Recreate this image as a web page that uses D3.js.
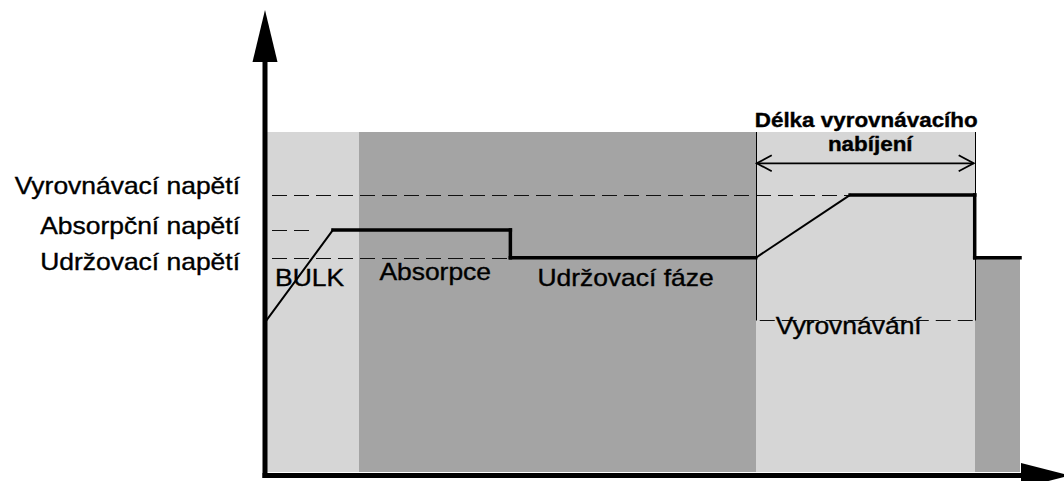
<!DOCTYPE html>
<html>
<head>
<meta charset="utf-8">
<script src="https://cdn.jsdelivr.net/npm/d3@7"></script>
<style>
  html, body { margin: 0; padding: 0; background: #fff; }
  svg { display: block; }
  text { font-family: 'Liberation Sans', Arial, sans-serif; fill: #000; stroke: #000; stroke-width: 0.35; }
</style>
</head>
<body>
<div id="chart"></div>
<script>
// Charging phases (time in arbitrary units 0..100, voltage in arbitrary units 0..100)
var phaseNames = ['BULK', 'Absorpce', 'Udržovací fáze', 'Vyrovnávání'];
var phaseStart = [0, 12.5, 32.5, 65, 94];
var phaseEnd   = [12.5, 32.5, 65, 94, 100];
var phaseTop   = [100, 100, 100, 100, 63];
var phaseShade = ['light', 'dark', 'dark', 'light', 'dark'];

var levelNames  = ['Vyrovnávací napětí', 'Absorpční napětí', 'Udržovací napětí'];
var levelValues = [81.5, 71.2, 63];
var levelEnds   = [94, 6, 32.5];

// Charging voltage curve
var curveTime    = [0, 9, 32.5, 32.5, 65, 77.5, 94, 94, 100];
var curveVoltage = [44, 71.2, 71.2, 63, 63, 81.5, 81.5, 63, 63];

// Equalisation window
var eqStart = 65, eqEnd = 94, eqBottom = 44.7, eqArrowLevel = 90.8;
var eqTitle = ['Délka vyrovnávacího', 'nabíjení'];

(function (d3) {
  'use strict';

  var width = 1064, height = 481,
      stretch = 1.15;

  var x = d3.scaleLinear().domain([0, 100]).range([265, 1020]),
      y = d3.scaleLinear().domain([0, 100]).range([472, 132]);

  // snap thin lines onto the pixel grid
  function px(v) { return Math.round(v) + 0.5; }

  var svg = d3.select('#chart').append('svg')
    .attr('width', width)
    .attr('height', height);

  // Phase backgrounds
  svg.selectAll('rect.phase')
    .data(phaseStart)
    .enter().append('rect')
      .attr('class', 'phase')
      .attr('x', function(d) { return Math.round(x(d)); })
      .attr('y', function(d, i) { return Math.round(y(phaseTop[i])); })
      .attr('width', function(d, i) { return Math.round(x(phaseEnd[i])) - Math.round(x(d)); })
      .attr('height', function(d, i) { return Math.round(y(0)) - Math.round(y(phaseTop[i])); })
      .attr('shape-rendering', 'crispEdges')
      .style('fill', function(d, i) { return phaseShade[i] == 'light' ? '#d6d6d6' : '#a4a4a4'; });

  // Dashed voltage levels
  svg.selectAll('line.level')
    .data(levelValues)
    .enter().append('line')
      .attr('class', 'level')
      .attr('x1', x(0) + 7)
      .attr('x2', function(d, i) { return x(levelEnds[i]); })
      .attr('y1', function(d) { return px(y(d)); })
      .attr('y2', function(d) { return px(y(d)); })
      .style('stroke', '#111')
      .style('stroke-width', 1)
      .style('stroke-dasharray', '15,7');

  // Equalisation window: side lines and dashed bottom
  svg.selectAll('line.eqside')
    .data([eqStart, eqEnd])
    .enter().append('line')
      .attr('class', 'eqside')
      .attr('x1', function(d) { return px(x(d)); })
      .attr('x2', function(d) { return px(x(d)); })
      .attr('y1', y(100))
      .attr('y2', px(y(eqBottom)))
      .style('stroke', '#000')
      .style('stroke-width', 1);

  svg.append('line')
    .attr('x1', x(eqStart) + 4)
    .attr('x2', x(eqEnd))
    .attr('y1', px(y(eqBottom)))
    .attr('y2', px(y(eqBottom)))
    .style('stroke', '#111')
    .style('stroke-width', 1)
    .style('stroke-dasharray', '15,7');

  // Double arrow for equalisation length
  var ay = y(eqArrowLevel);
  svg.append('line')
    .attr('x1', x(eqStart) + 1).attr('x2', x(eqEnd) - 1)
    .attr('y1', ay).attr('y2', ay)
    .style('stroke', '#000').style('stroke-width', 1.8);
  svg.append('path')
    .attr('d', 'M' + (x(eqStart) + 16) + ',' + (ay - 8) + 'L' + (x(eqStart) + 1) + ',' + ay + 'L' + (x(eqStart) + 16) + ',' + (ay + 8) +
               'M' + (x(eqEnd) - 16) + ',' + (ay - 8) + 'L' + (x(eqEnd) - 1) + ',' + ay + 'L' + (x(eqEnd) - 16) + ',' + (ay + 8))
    .style('fill', 'none').style('stroke', '#000').style('stroke-width', 1.8);

  // Voltage curve, thick on flat/vertical parts, thinner on ramps
  var segments = d3.pairs(d3.range(curveTime.length));
  svg.selectAll('line.curve')
    .data(segments)
    .enter().append('line')
      .attr('class', 'curve')
      .attr('x1', function(d) { return x(curveTime[d[0]]); })
      .attr('y1', function(d) { return y(curveVoltage[d[0]]); })
      .attr('x2', function(d) { return x(curveTime[d[1]]); })
      .attr('y2', function(d) { return y(curveVoltage[d[1]]); })
      .style('stroke', '#000')
      .style('stroke-linecap', 'square')
      .style('stroke-width', function(d) {
        var flat = curveTime[d[0]] == curveTime[d[1]] || curveVoltage[d[0]] == curveVoltage[d[1]];
        return flat ? 3.5 : 2;
      });

  // Axes with arrow heads
  svg.append('line')
    .attr('x1', x(0)).attr('x2', x(0))
    .attr('y1', 55).attr('y2', y(0) + 6)
    .style('stroke', '#000').style('stroke-width', 5);
  svg.append('line')
    .attr('x1', x(0) - 2.5).attr('x2', 1025)
    .attr('y1', y(0) + 3.5).attr('y2', y(0) + 3.5)
    .style('stroke', '#000').style('stroke-width', 5);
  svg.append('path')
    .attr('d', 'M' + x(0) + ',10L' + (x(0) - 12.5) + ',62L' + (x(0) + 12.5) + ',62Z')
    .style('fill', '#000');
  svg.append('path')
    .attr('d', 'M1021,' + (y(0) - 9) + 'L1070,' + (y(0) + 3.5) + 'L1021,' + (y(0) + 16) + 'Z')
    .style('fill', '#000');

  // Text helper: the source lettering is horizontally stretched
  function label(str, tx, ty, anchor, size, weight) {
    svg.append('g')
      .attr('transform', 'translate(' + tx + ',' + ty + ')')
      .append('text')
        .attr('transform', 'scale(' + stretch + ',1)')
        .attr('text-anchor', anchor)
        .style('font-size', size + 'px')
        .style('font-weight', weight || 'normal')
        .text(str);
  }

  // Level labels on the left
  var levelBaseline = [194, 234, 270];
  levelNames.forEach(function(n, i) { label(n, 240, levelBaseline[i], 'end', 23); });

  // Phase labels
  label(phaseNames[0], x(phaseStart[0]) + 10, 286, 'start', 23);
  label(phaseNames[1], x(phaseStart[1]) + 20, 280, 'start', 23);
  label(phaseNames[2], x(phaseStart[2]) + 27, 286, 'start', 23);
  label(phaseNames[3], x(eqStart) + 20, 334, 'start', 23);

  // Equalisation length title
  var mid = (x(eqStart) + x(eqEnd)) / 2;
  label(eqTitle[0], mid + 1, 127, 'middle', 19.5, 'bold');
  label(eqTitle[1], mid + 5, 151, 'middle', 19.5, 'bold');

}(d3));
</script>
</body>
</html>
